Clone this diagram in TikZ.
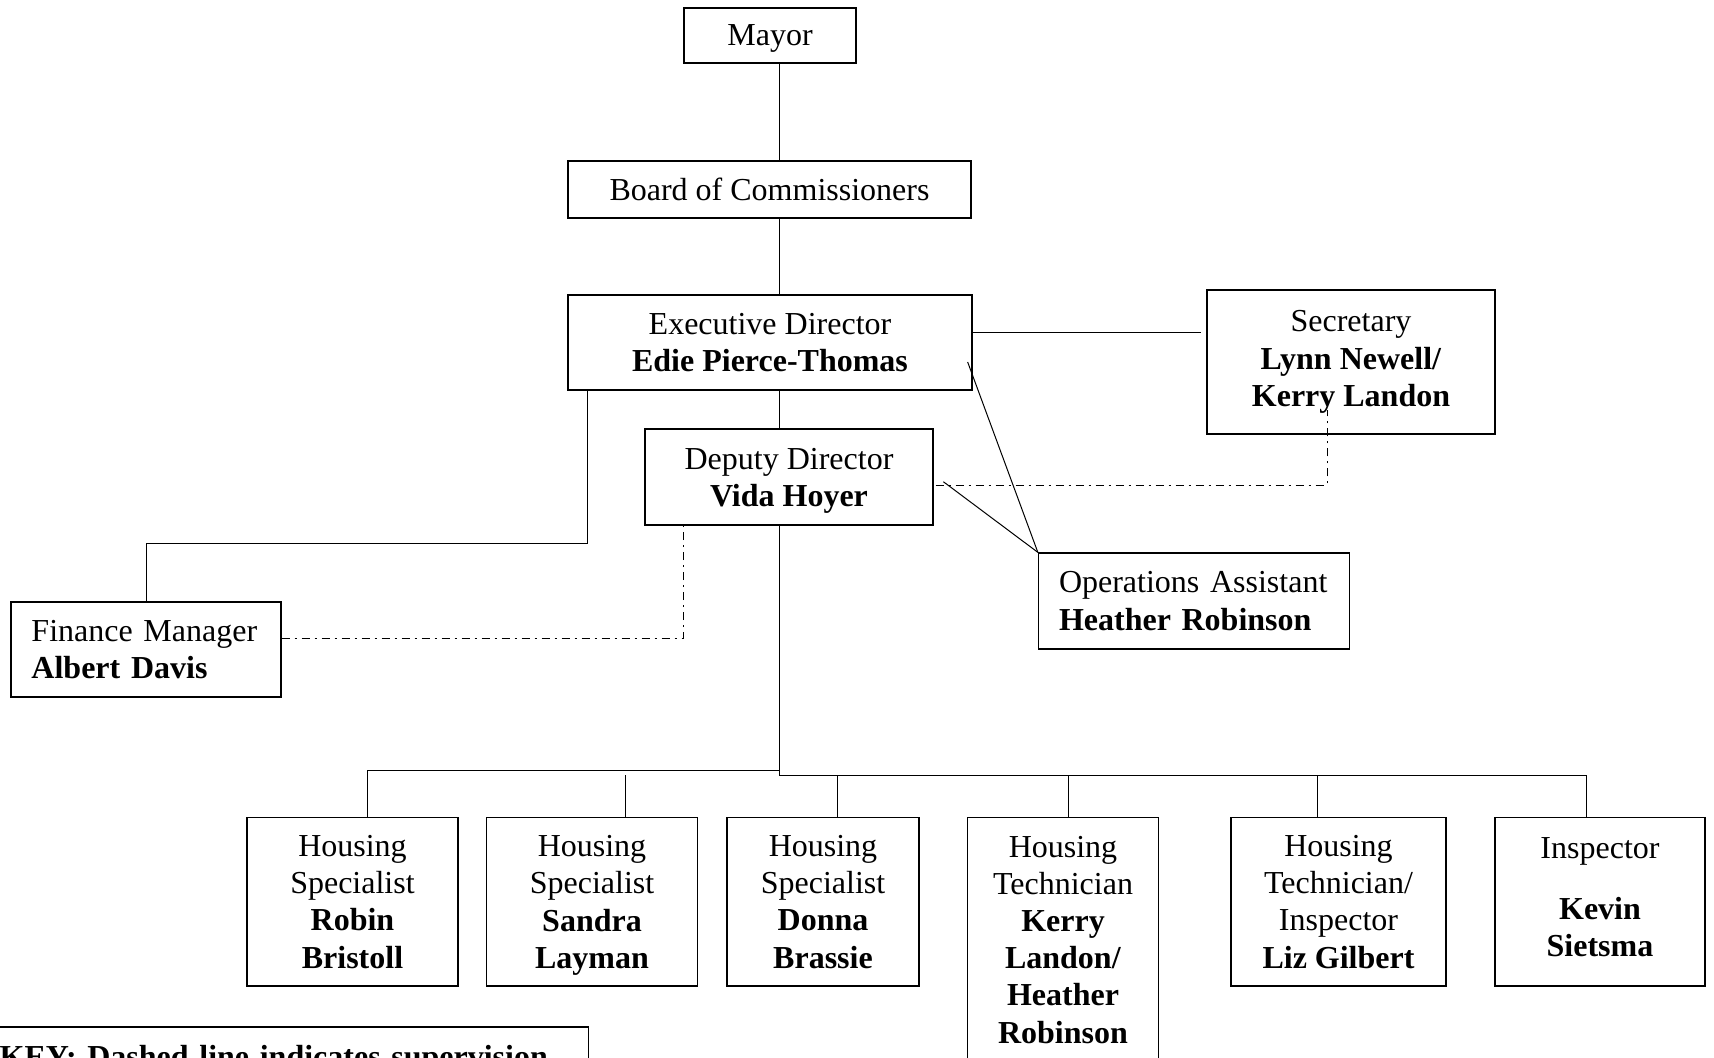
\documentclass[tikz,border=0pt]{standalone}
\usepackage{fontspec}
\setmainfont{Liberation Serif}

\begin{document}
\begin{tikzpicture}[x=0.5pt, y=-0.5pt,
  box/.style={draw, line width=0.65pt, align=center, font=\fontsize{16}{18.6}\selectfont},
  lbox/.style={box, align=left, inner xsep=10.25pt},
  line/.style={line width=0.5pt},
  supline/.style={line width=0.5pt, dash pattern=on 4pt off 2.5pt on 1pt off 2.5pt}]

% page frame
\useasboundingbox (0,0) rectangle (1714,1057);

% top of the chart
\node[box, minimum width=86pt,  minimum height=27.5pt, text depth=0pt] (mayor) at (770,35.5)  {Mayor};
\node[box, minimum width=201.5pt, minimum height=28.5pt] (board) at (769.5,189.5) {Board of Commissioners};
\node[box, minimum width=202pt, minimum height=47.5pt] (exec)  at (770,342.5) {Executive Director\\\textbf{Edie Pierce-Thomas}};
\node[box, minimum width=144pt, minimum height=48pt, text depth=0pt] (dep) at (789,477) {Deputy Director\\\textbf{Vida Hoyer}};
\node[box, minimum width=144pt, minimum height=72pt]   (sec)   at (1351,362)  {Secretary\\\textbf{Lynn Newell/}\\\textbf{Kerry Landon}};
\node[lbox, text width=135pt,   minimum height=48pt]   (ops)   at (1194,601)  {Operations Assistant\\\textbf{Heather Robinson}};
\node[lbox, text width=114.5pt, minimum height=47.5pt] (fin)   at (146,649.5) {Finance Manager\\\textbf{Albert Davis}};

% staff row
\node[box, minimum width=105.5pt, minimum height=84.2pt] (hs1)  at (352.5,901.8) {Housing\\Specialist\\\textbf{Robin}\\\textbf{Bristoll}};
\node[box, minimum width=105.5pt, minimum height=84.2pt, text depth=0pt] (hs2) at (592,901.8) {Housing\\Specialist\\\textbf{Sandra}\\\textbf{Layman}};
\node[box, minimum width=96pt,    minimum height=84.2pt] (hs3)  at (823,901.8)   {Housing\\Specialist\\\textbf{Donna}\\\textbf{Brassie}};
\node[box, minimum width=95.5pt,  minimum height=122pt]  (ht1)  at (1063,939.6)  {Housing\\Technician\\\textbf{Kerry}\\\textbf{Landon/}\\\textbf{Heather}\\\textbf{Robinson}};
\node[box, minimum width=107.5pt, minimum height=84.2pt] (ht2)  at (1338.5,901.8) {Housing\\Technician/\\Inspector\\\textbf{Liz Gilbert}};
\node[box, minimum width=105pt,   minimum height=84.2pt, text depth=4.5pt] (insp) at (1600,901.8) {Inspector\\[12pt]\textbf{Kevin}\\\textbf{Sietsma}};

% key
\node[box, font=\fontsize{16}{18.6}\selectfont\bfseries, anchor=base west, text width=285pt, align=left,
      inner xsep=9.5pt, inner ysep=8pt, text height=12pt, text depth=4pt] (key) at (-20,1067) {KEY: Dashed line indicates supervision};

% main trunk
\coordinate (trunk) at (779.5,0);
\coordinate (bus)   at (0,775);
\coordinate (busl)  at (0,770);
\draw[line] (mayor.south -| trunk) -- (board.north -| trunk);
\draw[line] (board.south -| trunk) -- (exec.north -| trunk);
\draw[line] (exec.south -| trunk) -- (dep.north -| trunk);

% secretary
\coordinate (e1) at ([yshift=5.25pt]exec.east);
\draw[line, shorten >=2.5pt] (e1) -- (e1 -| sec.west);

% finance branch
\coordinate (e2) at ([xshift=10pt]exec.south west);
\draw[line] (e2) -- ++(0,153) -| (fin.north);

% supervision (dashed)
\coordinate (f1) at ([yshift=5.5pt]fin.east);
\coordinate (d1) at ([xshift=19.5pt]dep.south west);
\draw[supline] (f1) -| (d1);
\coordinate (d2) at ([xshift=1pt,yshift=-4pt]dep.east);
\coordinate (s1) at ([xshift=-12pt,yshift=-24pt]sec.center);
\draw[supline] (d2) -| (s1);

% operations assistant
\draw[line] ([xshift=-2.5pt,yshift=-9.75pt]exec.east) -- (ops.north west);
\draw[line] ([xshift=4.85pt,yshift=-2.35pt]dep.east) -- (ops.north west);

% staff bus
\coordinate (r1) at ([xshift=7.25pt]hs1.north);
\coordinate (r6) at ([xshift=-7pt]insp.north);
\draw[line] (dep.south -| trunk) -- (trunk |- bus) -- (r6 |- bus);
\draw[line] (trunk |- busl) -- (r1 |- busl) -- (r1);
\foreach \n/\dx in {hs2/16.5, hs3/7, ht1/2.5, ht2/-10.75, insp/-7} {
  \coordinate (drop) at ([xshift=\dx pt]\n.north);
  \draw[line] (drop |- bus) -- (drop);
}

\end{tikzpicture}
\end{document}
